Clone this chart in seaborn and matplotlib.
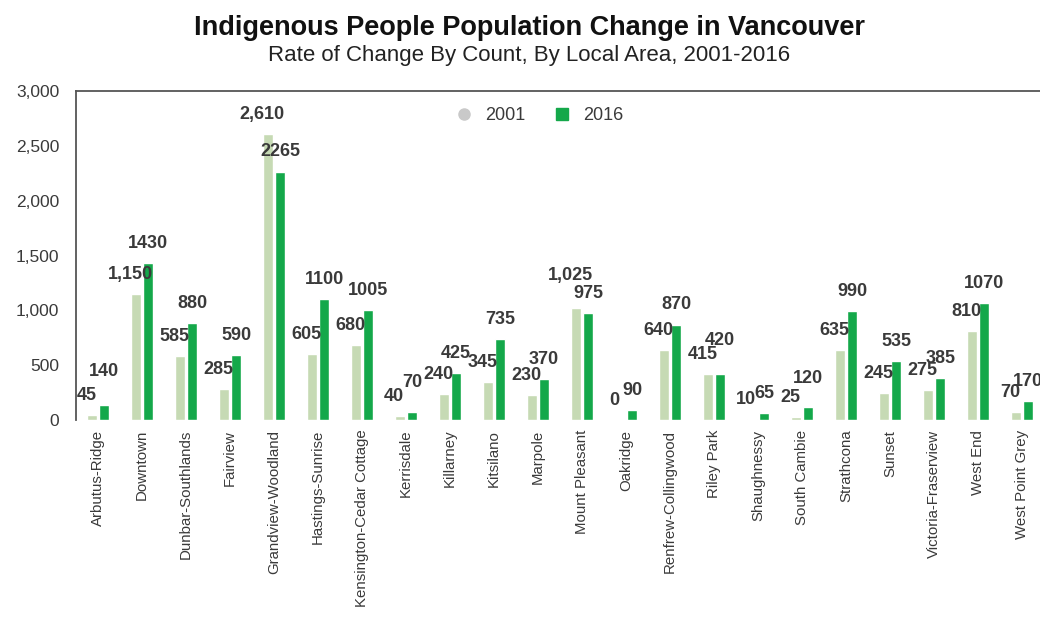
import matplotlib
matplotlib.use("Agg")
import matplotlib.pyplot as plt
from matplotlib.ticker import FuncFormatter
from matplotlib.lines import Line2D
import seaborn as sns
import pandas as pd

areas = [
    "Arbutus-Ridge", "Downtown", "Dunbar-Southlands", "Fairview",
    "Grandview-Woodland", "Hastings-Sunrise", "Kensington-Cedar Cottage",
    "Kerrisdale", "Killarney", "Kitsilano", "Marpole", "Mount Pleasant",
    "Oakridge", "Renfrew-Collingwood", "Riley Park", "Shaughnessy",
    "South Cambie", "Strathcona", "Sunset", "Victoria-Fraserview",
    "West End", "West Point Grey",
]
pop_2001 = [45, 1150, 585, 285, 2610, 605, 680, 40, 240, 345, 230, 1025,
            0, 640, 415, 10, 25, 635, 245, 275, 810, 70]
pop_2016 = [140, 1430, 880, 590, 2265, 1100, 1005, 70, 425, 735, 370, 975,
            90, 870, 420, 65, 120, 990, 535, 385, 1070, 170]
years = ["2001", "2016"]
y_ticks = [0, 500, 1000, 1500, 2000, 2500, 3000]

df = pd.DataFrame({
    "Area": areas * 2,
    "Year": [years[0]] * len(areas) + [years[1]] * len(areas),
    "Count": pop_2001 + pop_2016,
})

sns.set_theme(style="white")
plt.rcParams["font.family"] = ["Liberation Sans", "DejaVu Sans"]

col_2001 = "#c6dab4"
col_2016 = "#14a84a"
text_col = "#3a3a3a"

fig = plt.figure(figsize=(10.4, 6.38), dpi=100)
W, H = 1040, 638
left, right, top, bottom = 76, 1044, 91, 420
ax = fig.add_axes([left / W, 1 - bottom / H, (right - left) / W, (bottom - top) / H])

sns.barplot(data=df, x="Area", y="Count", hue="Year", order=areas,
            hue_order=years, palette=[col_2001, col_2016],
            width=0.56, gap=0.18, ax=ax, legend=False, errorbar=None,
            saturation=1)

ax.set_xlim(-0.5, len(areas) - 0.5)
ax.set_ylim(0, 3000)
ax.set_yticks(y_ticks)
ax.yaxis.set_major_formatter(FuncFormatter(lambda v, p: f"{int(v):,}"))
ax.set_xlabel("")
ax.set_ylabel("")
ax.tick_params(axis="y", labelsize=12.5, colors=text_col, length=0, pad=12)
ax.tick_params(axis="x", labelsize=10.8, colors=text_col, length=0, pad=7)
for lab in ax.get_xticklabels():
    lab.set_rotation(90)
    lab.set_va("top")

for side in ["top", "left", "right"]:
    ax.spines[side].set_color("#555555")
    ax.spines[side].set_linewidth(1.3)
ax.spines["bottom"].set_visible(False)

# value labels: 2001 with thousands separators, 2016 plain;
# a few labels are lifted so crowded pairs stay readable
fmts = [lambda v: f"{v:,}", lambda v: f"{v}"]
shifts = [-4, 0]
lift = {
    ("2001", "Mount Pleasant"): 9,
    ("2016", "Arbutus-Ridge"): 10,
    ("2016", "Kerrisdale"): 7,
    ("2016", "Riley Park"): 10,
    ("2016", "South Cambie"): 6,
}
for year, container, vals, fmt, dx in zip(years, ax.containers,
                                          [pop_2001, pop_2016], fmts, shifts):
    texts = ax.bar_label(container, labels=[fmt(v) for v in vals], padding=8,
                         fontsize=13, color=text_col, fontweight="bold")
    for area, t in zip(areas, texts):
        t.xyann = (dx, 8 + lift.get((year, area), 0))

handles = [
    Line2D([], [], marker="o", linestyle="", markersize=8,
           markerfacecolor="#c9c9c9", markeredgecolor="#c9c9c9"),
    Line2D([], [], marker="s", linestyle="", markersize=8,
           markerfacecolor=col_2016, markeredgecolor=col_2016),
]
ax.legend(handles, years, loc="upper center", bbox_to_anchor=(0.474, 1.0),
          ncol=2, frameon=False, fontsize=13, handletextpad=0.2,
          columnspacing=1.0, labelcolor=text_col)

fig.text(0.509, 0.956, "Indigenous People Population Change in Vancouver",
         ha="center", va="center", fontsize=19.5, fontweight="bold",
         color="#111111")
fig.text(0.509, 0.913, "Rate of Change By Count, By Local Area, 2001-2016",
         ha="center", va="center", fontsize=16, color="#222222")

fig.savefig("out.png", dpi=100)
